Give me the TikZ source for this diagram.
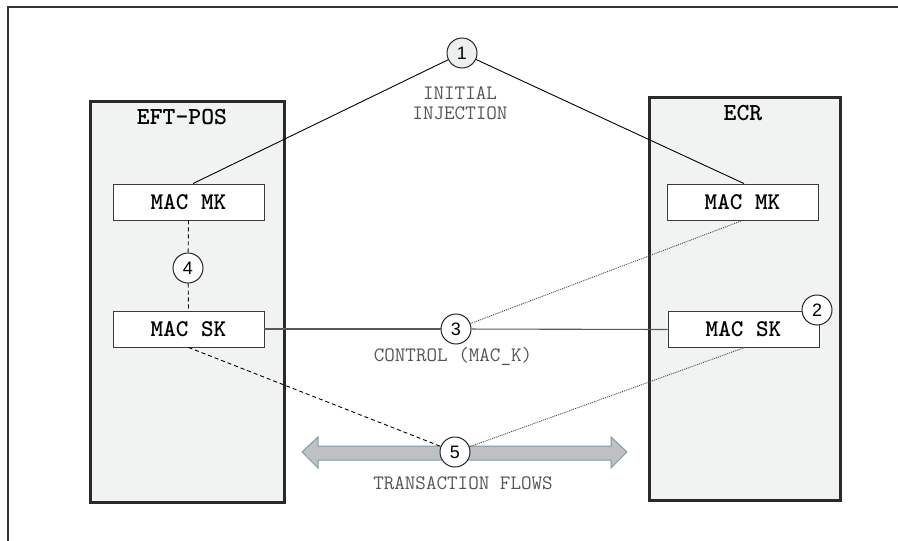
\documentclass[tikz,border=0pt]{standalone}
\usepackage{fontspec}
\setmainfont{Liberation Sans}
\newfontfamily\numf{Liberation Sans}
\definecolor{panelfill}{HTML}{F1F2F2}
\definecolor{panelline}{HTML}{2A2A2A}
\definecolor{boxline}{HTML}{3A3A3A}
\definecolor{labgray}{HTML}{555555}
\definecolor{arrowfill}{HTML}{BFC0C2}
\definecolor{arrowline}{HTML}{7F9AA5}
\definecolor{c1fill}{HTML}{EDEFEE}
\tikzset{
  panel/.style={draw=panelline, line width=2.6pt, fill=panelfill},
  keybox/.style={draw=boxline, line width=0.9pt, fill=white, minimum width=151pt, minimum height=36pt, inner sep=0pt, font=\ttfamily\bfseries\fontsize{24}{26}\selectfont},
  ptitle/.style={font=\ttfamily\bfseries\fontsize{24.5}{26}\selectfont, inner sep=0pt},
  num/.style={circle, draw=black!85, line width=1pt, fill=white, minimum size=30pt, inner sep=0pt, font=\numf\fontsize{18}{20}\selectfont},
  annot/.style={font=\ttfamily\fontsize{20.5}{20}\selectfont, text=labgray, align=center, inner sep=0pt},
  solidlink/.style={draw=black, line width=0.9pt},
  hlink/.style={draw=black!65, line width=1.1pt},
  dashlink/.style={draw=black, line width=0.9pt, dash pattern=on 4pt off 3pt},
  dotlink/.style={draw=black!70, line width=0.9pt, dash pattern=on 1pt off 1pt},
}
\begin{document}
\begin{tikzpicture}[x=1pt,y=-1pt]
\useasboundingbox (0,0) rectangle (898,541);
% outer frame
\draw[draw=black!80, line width=1.2pt] (8,541) -- (8,7) -- (898,7);
% panels
\node[panel, minimum width=194pt, minimum height=401pt, inner sep=0pt, anchor=north west] (pL) at (89,100) {};
\node[panel, minimum width=191pt, minimum height=403pt, inner sep=0pt, anchor=north west] (pR) at (648,96) {};
\node[ptitle] (tL) at (182,117) {EFT-POS};
\node[ptitle] (tR) at (743,113) {ECR};
% boxes
\node[keybox] (mkL) at (188.5,202) {MAC MK};
\node[keybox] (skL) at (188.5,329) {MAC SK};
\node[keybox] (mkR) at (742.5,202) {MAC MK};
\node[keybox] (skR) at (743.5,329.5) {MAC SK};
% circles
\node[num, fill=c1fill] (n1) at (462,53) {1};
\node[num] (n4) at (188,268) {4};
\node[num] (n3) at (456,329) {3};
% transaction arrow
\path[fill=arrowfill, draw=arrowline, line width=1pt, line join=miter]
  (302,452) -- (318,437) -- (318,446) -- (611,446) -- (611,437) -- (627,452)
  -- (611,468) -- (611,460) -- (318,460) -- (318,468) -- cycle;
\node[num] (n5) at (455,452) {5};
\node[num] (n2) at (817,310) {2};
% labels
\node[annot] (lInit) at (460,103) {INITIAL\\INJECTION};
\node[annot] (lCtrl) at (453,356) {CONTROL (MAC\_K)};
\node[annot] (lTrans) at (463,483) {TRANSACTION FLOWS};
% connectors
\coordinate (mkLtop) at ([xshift=4.5pt]mkL.north);
\coordinate (mkRtop) at ([xshift=1.5pt]mkR.north);
\draw[solidlink] (n1) -- (mkLtop);
\draw[solidlink] (n1) -- (mkRtop);
\draw[dashlink] (mkL.south) -- (n4);
\draw[dashlink] (n4) -- (skL.north);
\draw[hlink] (skL.east) -- (n3);
\draw[hlink] (n3) -- (skR.west);
\draw[dotlink] (n3) -- (mkR.south);
\draw[dashlink] (skL.south) -- (n5);
\draw[dotlink] (n5) -- (skR.south);
\end{tikzpicture}
\end{document}
